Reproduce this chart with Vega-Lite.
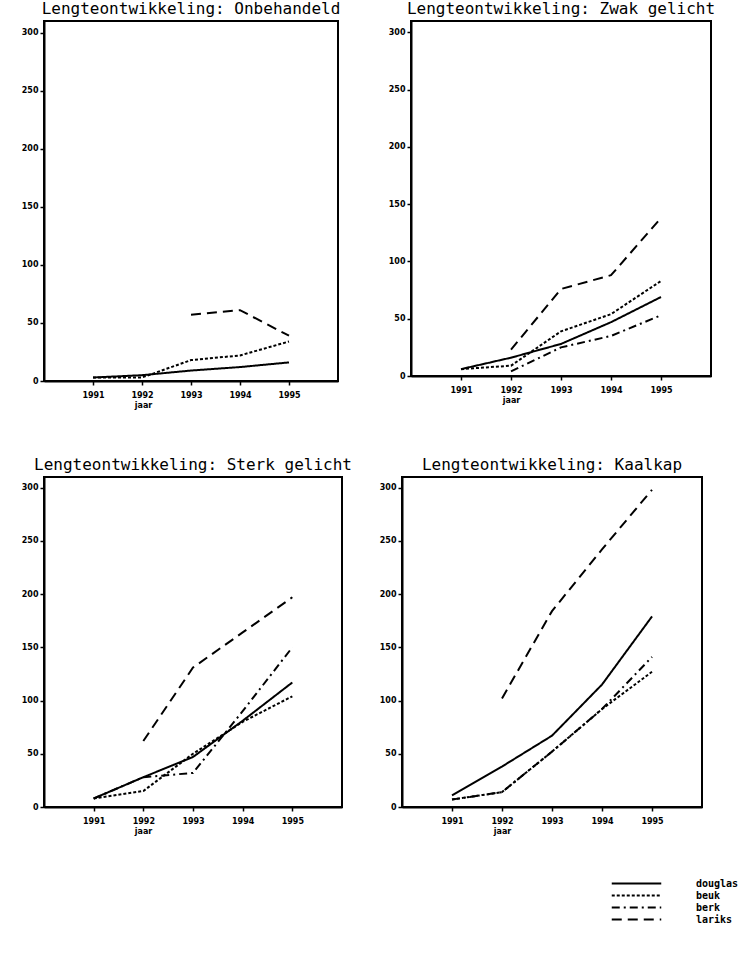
{
  "$schema": "https://vega.github.io/schema/vega-lite/v6.json",
  "background": "white",
  "padding": {"left": 20, "top": 0, "right": 0, "bottom": 0},
  "datasets": {
    "d": [
      {"panel": "Onbehandeld", "soort": "douglas", "jaar": 1991, "lengte": 3},
      {"panel": "Onbehandeld", "soort": "douglas", "jaar": 1992, "lengte": 5},
      {"panel": "Onbehandeld", "soort": "douglas", "jaar": 1993, "lengte": 9},
      {"panel": "Onbehandeld", "soort": "douglas", "jaar": 1994, "lengte": 12},
      {"panel": "Onbehandeld", "soort": "douglas", "jaar": 1995, "lengte": 16},
      {"panel": "Onbehandeld", "soort": "beuk", "jaar": 1991, "lengte": 3},
      {"panel": "Onbehandeld", "soort": "beuk", "jaar": 1992, "lengte": 3},
      {"panel": "Onbehandeld", "soort": "beuk", "jaar": 1993, "lengte": 18},
      {"panel": "Onbehandeld", "soort": "beuk", "jaar": 1994, "lengte": 22},
      {"panel": "Onbehandeld", "soort": "beuk", "jaar": 1995, "lengte": 34},
      {"panel": "Onbehandeld", "soort": "lariks", "jaar": 1993, "lengte": 57},
      {"panel": "Onbehandeld", "soort": "lariks", "jaar": 1994, "lengte": 61},
      {"panel": "Onbehandeld", "soort": "lariks", "jaar": 1995, "lengte": 39},

      {"panel": "Zwak", "soort": "douglas", "jaar": 1991, "lengte": 6},
      {"panel": "Zwak", "soort": "douglas", "jaar": 1992, "lengte": 16},
      {"panel": "Zwak", "soort": "douglas", "jaar": 1993, "lengte": 28},
      {"panel": "Zwak", "soort": "douglas", "jaar": 1994, "lengte": 47},
      {"panel": "Zwak", "soort": "douglas", "jaar": 1995, "lengte": 69},
      {"panel": "Zwak", "soort": "beuk", "jaar": 1991, "lengte": 6},
      {"panel": "Zwak", "soort": "beuk", "jaar": 1992, "lengte": 9},
      {"panel": "Zwak", "soort": "beuk", "jaar": 1993, "lengte": 39},
      {"panel": "Zwak", "soort": "beuk", "jaar": 1994, "lengte": 54},
      {"panel": "Zwak", "soort": "beuk", "jaar": 1995, "lengte": 83},
      {"panel": "Zwak", "soort": "berk", "jaar": 1992, "lengte": 4},
      {"panel": "Zwak", "soort": "berk", "jaar": 1993, "lengte": 25},
      {"panel": "Zwak", "soort": "berk", "jaar": 1994, "lengte": 35},
      {"panel": "Zwak", "soort": "berk", "jaar": 1995, "lengte": 53},
      {"panel": "Zwak", "soort": "lariks", "jaar": 1992, "lengte": 23},
      {"panel": "Zwak", "soort": "lariks", "jaar": 1993, "lengte": 76},
      {"panel": "Zwak", "soort": "lariks", "jaar": 1994, "lengte": 88},
      {"panel": "Zwak", "soort": "lariks", "jaar": 1995, "lengte": 138},

      {"panel": "Sterk", "soort": "douglas", "jaar": 1991, "lengte": 8},
      {"panel": "Sterk", "soort": "douglas", "jaar": 1992, "lengte": 28},
      {"panel": "Sterk", "soort": "douglas", "jaar": 1993, "lengte": 47},
      {"panel": "Sterk", "soort": "douglas", "jaar": 1994, "lengte": 81},
      {"panel": "Sterk", "soort": "douglas", "jaar": 1995, "lengte": 117},
      {"panel": "Sterk", "soort": "beuk", "jaar": 1991, "lengte": 8},
      {"panel": "Sterk", "soort": "beuk", "jaar": 1992, "lengte": 15},
      {"panel": "Sterk", "soort": "beuk", "jaar": 1993, "lengte": 50},
      {"panel": "Sterk", "soort": "beuk", "jaar": 1994, "lengte": 80},
      {"panel": "Sterk", "soort": "beuk", "jaar": 1995, "lengte": 104},
      {"panel": "Sterk", "soort": "berk", "jaar": 1991, "lengte": 8},
      {"panel": "Sterk", "soort": "berk", "jaar": 1992, "lengte": 28},
      {"panel": "Sterk", "soort": "berk", "jaar": 1993, "lengte": 32},
      {"panel": "Sterk", "soort": "berk", "jaar": 1994, "lengte": 90},
      {"panel": "Sterk", "soort": "berk", "jaar": 1995, "lengte": 150},
      {"panel": "Sterk", "soort": "lariks", "jaar": 1992, "lengte": 62},
      {"panel": "Sterk", "soort": "lariks", "jaar": 1993, "lengte": 131},
      {"panel": "Sterk", "soort": "lariks", "jaar": 1994, "lengte": 164},
      {"panel": "Sterk", "soort": "lariks", "jaar": 1995, "lengte": 197},

      {"panel": "Kaalkap", "soort": "douglas", "jaar": 1991, "lengte": 11},
      {"panel": "Kaalkap", "soort": "douglas", "jaar": 1992, "lengte": 38},
      {"panel": "Kaalkap", "soort": "douglas", "jaar": 1993, "lengte": 67},
      {"panel": "Kaalkap", "soort": "douglas", "jaar": 1994, "lengte": 115},
      {"panel": "Kaalkap", "soort": "douglas", "jaar": 1995, "lengte": 179},
      {"panel": "Kaalkap", "soort": "beuk", "jaar": 1991, "lengte": 7},
      {"panel": "Kaalkap", "soort": "beuk", "jaar": 1992, "lengte": 14},
      {"panel": "Kaalkap", "soort": "beuk", "jaar": 1993, "lengte": 52},
      {"panel": "Kaalkap", "soort": "beuk", "jaar": 1994, "lengte": 92},
      {"panel": "Kaalkap", "soort": "beuk", "jaar": 1995, "lengte": 127},
      {"panel": "Kaalkap", "soort": "berk", "jaar": 1991, "lengte": 7},
      {"panel": "Kaalkap", "soort": "berk", "jaar": 1992, "lengte": 14},
      {"panel": "Kaalkap", "soort": "berk", "jaar": 1993, "lengte": 52},
      {"panel": "Kaalkap", "soort": "berk", "jaar": 1994, "lengte": 92},
      {"panel": "Kaalkap", "soort": "berk", "jaar": 1995, "lengte": 141},
      {"panel": "Kaalkap", "soort": "lariks", "jaar": 1992, "lengte": 102},
      {"panel": "Kaalkap", "soort": "lariks", "jaar": 1993, "lengte": 184},
      {"panel": "Kaalkap", "soort": "lariks", "jaar": 1994, "lengte": 242},
      {"panel": "Kaalkap", "soort": "lariks", "jaar": 1995, "lengte": 298}
    ]
  },
  "vconcat": [
    {
      "hconcat": [
        {
          "width": 294, "height": 360,
          "title": "Lengteontwikkeling: Onbehandeld",
          "data": {"name": "d"},
          "transform": [{"filter": "datum.panel === 'Onbehandeld'"}],
          "mark": {"type": "line", "color": "black", "strokeWidth": 2},
          "encoding": {
            "x": {"field": "jaar", "type": "quantitative", "scale": {"domain": [1990, 1996]}, "axis": {"values": [1991, 1992, 1993, 1994, 1995], "format": "d", "title": "jaar", "titleX": 99, "titleAlign": "center"}},
            "y": {"field": "lengte", "type": "quantitative", "scale": {"domain": [0, 310]}, "axis": {"values": [0, 50, 100, 150, 200, 250, 300], "title": null}},
            "strokeDash": {"field": "soort", "type": "nominal", "scale": {"domain": ["douglas", "beuk", "berk", "lariks"], "range": [[1, 0], [3, 2], [8, 4, 2, 4], [10, 6]]}, "legend": {"orient": "none", "legendX": 586, "legendY": 856, "title": null}}
          }
        },
        {
          "width": 300, "height": 355,
          "title": "Lengteontwikkeling: Zwak gelicht",
          "data": {"name": "d"},
          "transform": [{"filter": "datum.panel === 'Zwak'"}],
          "mark": {"type": "line", "color": "black", "strokeWidth": 2},
          "encoding": {
            "x": {"field": "jaar", "type": "quantitative", "scale": {"domain": [1990, 1996]}, "axis": {"values": [1991, 1992, 1993, 1994, 1995], "format": "d", "title": "jaar", "titleX": 100, "titleAlign": "center"}},
            "y": {"field": "lengte", "type": "quantitative", "scale": {"domain": [0, 310]}, "axis": {"values": [0, 50, 100, 150, 200, 250, 300], "title": null}},
            "strokeDash": {"field": "soort", "type": "nominal", "scale": {"domain": ["douglas", "beuk", "berk", "lariks"], "range": [[1, 0], [3, 2], [8, 4, 2, 4], [10, 6]]}, "legend": {"orient": "none", "legendX": 586, "legendY": 856, "title": null}}
          }
        }
      ],
      "spacing": 45
    },
    {
      "hconcat": [
        {
          "width": 298, "height": 330,
          "title": "Lengteontwikkeling: Sterk gelicht",
          "data": {"name": "d"},
          "transform": [{"filter": "datum.panel === 'Sterk'"}],
          "mark": {"type": "line", "color": "black", "strokeWidth": 2},
          "encoding": {
            "x": {"field": "jaar", "type": "quantitative", "scale": {"domain": [1990, 1996]}, "axis": {"values": [1991, 1992, 1993, 1994, 1995], "format": "d", "title": "jaar", "titleX": 99, "titleAlign": "center"}},
            "y": {"field": "lengte", "type": "quantitative", "scale": {"domain": [0, 310]}, "axis": {"values": [0, 50, 100, 150, 200, 250, 300], "title": null}},
            "strokeDash": {"field": "soort", "type": "nominal", "scale": {"domain": ["douglas", "beuk", "berk", "lariks"], "range": [[1, 0], [3, 2], [8, 4, 2, 4], [10, 6]]}, "legend": {"orient": "none", "legendX": 586, "legendY": 856, "title": null}}
          }
        },
        {
          "width": 300, "height": 330,
          "title": "Lengteontwikkeling: Kaalkap",
          "data": {"name": "d"},
          "transform": [{"filter": "datum.panel === 'Kaalkap'"}],
          "mark": {"type": "line", "color": "black", "strokeWidth": 2},
          "encoding": {
            "x": {"field": "jaar", "type": "quantitative", "scale": {"domain": [1990, 1996]}, "axis": {"values": [1991, 1992, 1993, 1994, 1995], "format": "d", "title": "jaar", "titleX": 100, "titleAlign": "center"}},
            "y": {"field": "lengte", "type": "quantitative", "scale": {"domain": [0, 310]}, "axis": {"values": [0, 50, 100, 150, 200, 250, 300], "title": null}},
            "strokeDash": {"field": "soort", "type": "nominal", "scale": {"domain": ["douglas", "beuk", "berk", "lariks"], "range": [[1, 0], [3, 2], [8, 4, 2, 4], [10, 6]]}, "legend": {"orient": "none", "legendX": 586, "legendY": 856, "title": null}}
          }
        }
      ],
      "spacing": 25
    }
  ],
  "spacing": 46,
  "config": {
    "view": {"stroke": "black", "strokeWidth": 2},
    "font": "DejaVu Sans Mono",
    "title": {"font": "DejaVu Sans Mono", "fontSize": 16, "fontWeight": "normal", "anchor": "middle", "offset": 0, "color": "black"},
    "axis": {"domainColor": "black", "domainWidth": 2, "tickColor": "black", "tickWidth": 1.5, "tickSize": 4, "grid": false, "labelFont": "DejaVu Sans", "labelFontSize": 8, "labelFontWeight": "bold", "labelColor": "black", "titleFont": "DejaVu Sans", "titleFontSize": 8, "titleFontWeight": "bold", "titleColor": "black", "titlePadding": 2},
    "axisX": {"labelPadding": 6},
    "legend": {"symbolType": "M-4.5,0H4.5", "symbolSize": 121, "symbolStrokeWidth": 2, "symbolStrokeColor": "black", "labelFont": "DejaVu Sans Mono", "labelFontSize": 10, "labelFontWeight": "bold", "labelColor": "black", "labelOffset": 53, "rowPadding": 0}
  }
}
